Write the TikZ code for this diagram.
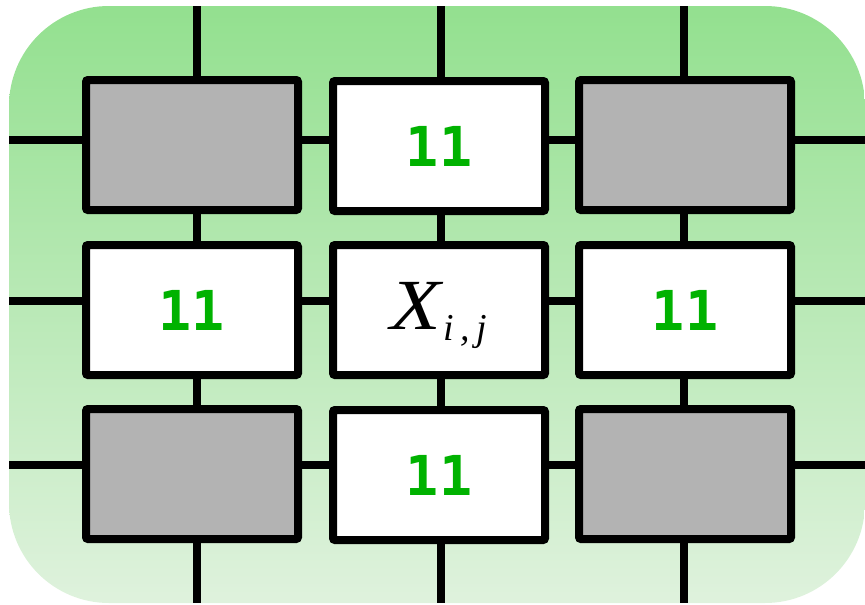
\documentclass[tikz,border=0pt]{standalone}
\usepackage{graphicx}
\usepackage{fontspec}
\setmainfont{Liberation Serif}
\newfontfamily\numfont{DejaVu Sans Mono}
\definecolor{bgtop}{RGB}{147,224,143}
\definecolor{bgbottom}{RGB}{223,242,221}
\definecolor{cellgrey}{RGB}{179,179,179}
\definecolor{numgreen}{RGB}{0,178,0}
\begin{document}
\begin{tikzpicture}[x=1pt,y=-1pt,
  cell/.style={draw=black, line width=8pt, rounded corners=2pt,
    minimum width=212pt, minimum height=130pt, inner sep=0pt},
  greycell/.style={cell, fill=cellgrey},
  whitecell/.style={cell, fill=white, text=numgreen,
    font=\numfont\bfseries\fontsize{55}{55}\selectfont},
  gridline/.style={line width=8pt, draw=black}]
\useasboundingbox (0,0) rectangle (865,605);

% green panel
\shade[top color=bgtop, bottom color=bgbottom, rounded corners=100pt]
  (9,6) rectangle (865,603);

% ends of the grid lines on the panel border
\coordinate (t1) at (197,6);   \coordinate (b1) at (197,603);
\coordinate (t2) at (441,6);   \coordinate (b2) at (441,603);
\coordinate (t3) at (684,6);   \coordinate (b3) at (684,603);
\coordinate (l1) at (9,140);   \coordinate (r1) at (865,140);
\coordinate (l2) at (9,301);   \coordinate (r2) at (865,301);
\coordinate (l3) at (9,465);   \coordinate (r3) at (865,465);

\foreach \i in {1,2,3} {
  \draw[gridline] (t\i) -- (b\i);
  \draw[gridline] (l\i) -- (r\i);
}

% 3x3 cells
\node[greycell]  (c11) at (192,145) {};
\node[whitecell] (c12) at (439,146) {11};
\node[greycell]  (c13) at (685,145) {};
\node[whitecell] (c21) at (192,310) {11};
\node[cell, fill=white] (c22) at (439,310) {};
\node[anchor=base, inner sep=0pt] (xij) at (439,329)
  {\fontsize{72}{72}\selectfont\itshape\scalebox{1.15}[1]{X}\kern2pt\raisebox{-11pt}{\fontsize{38}{38}\selectfont i\kern6pt,\kern7pt j}};
\node[whitecell] (c23) at (685,310) {11};
\node[greycell]  (c31) at (192,474) {};
\node[whitecell] (c32) at (439,475) {11};
\node[greycell]  (c33) at (685,474) {};
\end{tikzpicture}
\end{document}
